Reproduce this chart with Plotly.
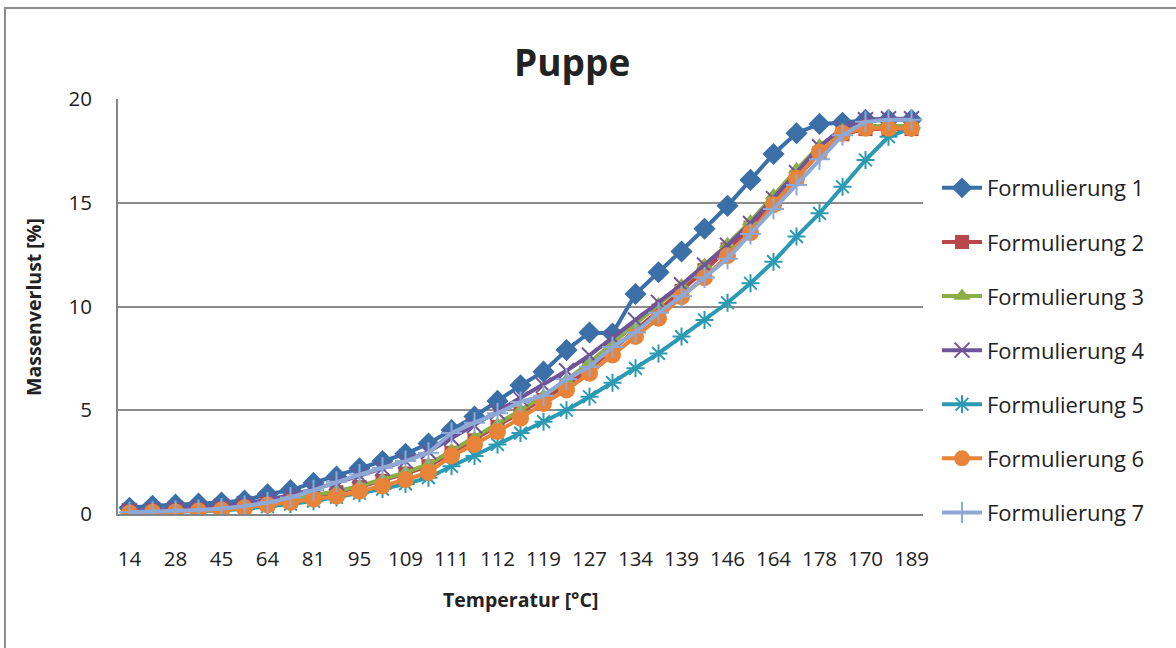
import plotly.graph_objects as go

tick_labels = ["14", "28", "45", "64", "81", "95", "109", "111", "112", "119",
               "127", "134", "139", "146", "164", "178", "170", "189"]

f1 = [0.3, 0.4, 0.45, 0.5, 0.55, 0.65, 0.95, 1.15, 1.5, 1.8, 2.2, 2.55, 2.9, 3.4, 4.05, 4.7, 5.45, 6.2,
      6.86, 7.9, 8.75, 8.7, 10.6, 11.65, 12.65, 13.75, 14.85, 16.1, 17.35, 18.35, 18.8, 18.85, 19.0, 19.0, 19.0]
f2 = [0.15, 0.18, 0.2, 0.22, 0.28, 0.38, 0.5, 0.65, 0.85, 1.05, 1.3, 1.6, 1.95, 2.3, 2.95, 3.55, 4.2, 4.85,
      5.5, 6.2, 7.0, 7.9, 8.85, 9.8, 10.75, 11.75, 12.75, 13.8, 14.95, 16.2, 17.4, 18.3, 18.55, 18.55, 18.55]
f3 = [0.12, 0.16, 0.2, 0.24, 0.3, 0.4, 0.52, 0.68, 0.9, 1.1, 1.35, 1.65, 2.0, 2.4, 3.05, 3.65, 4.3, 5.0,
      5.7, 6.45, 7.3, 8.2, 9.15, 10.1, 11.0, 12.0, 13.0, 14.1, 15.35, 16.6, 17.75, 18.5, 18.7, 18.7, 18.7]
f4 = [0.15, 0.2, 0.25, 0.3, 0.38, 0.5, 0.68, 0.9, 1.2, 1.5, 1.85, 2.2, 2.55, 3.0, 3.65, 4.25, 4.9, 5.55,
      6.2, 6.9, 7.65, 8.5, 9.35, 10.2, 11.05, 12.0, 12.95, 14.0, 15.2, 16.45, 17.7, 18.6, 19.0, 19.05, 19.05]
f5 = [0.05, 0.08, 0.1, 0.12, 0.17, 0.25, 0.35, 0.48, 0.62, 0.8, 1.0, 1.2, 1.45, 1.75, 2.3, 2.8, 3.35, 3.9,
      4.45, 5.0, 5.65, 6.33, 7.02, 7.74, 8.55, 9.35, 10.18, 11.12, 12.16, 13.37, 14.49, 15.77, 17.06, 18.18, 18.6]
f6 = [0.05, 0.08, 0.1, 0.14, 0.19, 0.3, 0.43, 0.55, 0.71, 0.85, 1.1, 1.35, 1.65, 2.0, 2.8, 3.35, 3.97, 4.62,
      5.33, 5.98, 6.78, 7.66, 8.55, 9.43, 10.47, 11.38, 12.45, 13.55, 14.9, 16.18, 17.45, 18.35, 18.59, 18.59, 18.59]
f7 = [0.08, 0.11, 0.14, 0.19, 0.27, 0.38, 0.55, 0.79, 1.15, 1.55, 1.9, 2.23, 2.55, 2.95, 3.9, 4.4, 4.85, 5.4,
      5.7, 6.5, 7.1, 8.05, 8.75, 9.7, 10.5, 11.4, 12.3, 13.5, 14.7, 15.85, 17.1, 18.25, 18.9, 19.0, 19.0]

series = [
    ("Formulierung 1", f1, "#3A6FA8", "diamond", 17, 0, None),
    ("Formulierung 2", f2, "#B9474A", "square", 14, 0, None),
    ("Formulierung 3", f3, "#8BAE47", "triangle-up", 15, 0, None),
    ("Formulierung 4", f4, "#70549A", "x-thin-open", 15, 2, "#70549A"),
    ("Formulierung 5", f5, "#2B9AB2", "asterisk-open", 15, 2, "#2B9AB2"),
    ("Formulierung 6", f6, "#E8833A", "circle", 17, 0, None),
    ("Formulierung 7", f7, "#8EA9D5", "cross-thin-open", 15, 2, "#8EA9D5"),
]

n = len(f1)
xs = list(range(n))

fig = go.Figure()
for i, (name, vals, color, sym, size, lw, lc) in enumerate(series):
    marker = dict(symbol=sym, size=size, color=color)
    if lw:
        marker["line"] = dict(width=lw, color=lc)
    else:
        marker["line"] = dict(width=0)
    fig.add_trace(go.Scatter(
        x=xs, y=vals, name=name, mode="lines+markers",
        line=dict(color=color, width=4),
        marker=marker, legendgroup=f"g{i}",
    ))

font_family = "Open Sans"

fig.update_layout(
    width=1176, height=648,
    margin=dict(l=118, r=253, t=99, b=134),
    paper_bgcolor="white", plot_bgcolor="white",
    font=dict(family=font_family, color="#222222", size=20),
    showlegend=True,
    legend=dict(x=1.0174, y=0.836, xanchor="left", yanchor="top",
                font=dict(size=22, family=font_family, color="#222222"),
                tracegroupgap=22.5, itemwidth=40, bgcolor="rgba(0,0,0,0)"),
    annotations=[
        dict(text="<b>Puppe</b>", xref="paper", yref="paper", x=0.564, y=1.09,
             xanchor="center", yanchor="middle", showarrow=False,
             font=dict(size=37, family=font_family, color="#222222")),
        dict(text="<b>Temperatur [°C]</b>", xref="paper", yref="paper", x=0.5, y=-0.207,
             xanchor="center", yanchor="middle", showarrow=False,
             font=dict(size=19.5, family=font_family, color="#222222")),
        dict(text="<b>Massenverlust [%]</b>", xref="paper", yref="paper", x=-0.105, y=0.5,
             xanchor="center", yanchor="middle", showarrow=False, textangle=-90,
             font=dict(size=19.5, family=font_family, color="#222222")),
    ],
    shapes=[
        dict(type="rect", xref="paper", yref="paper", x0=-0.1404, x1=1.33, y0=-0.4, y1=1.219,
             line=dict(color="#8C8C8C", width=2), fillcolor="rgba(0,0,0,0)", layer="below"),
    ],
)

fig.update_xaxes(
    range=[-0.5, n - 0.5], tickmode="array",
    tickvals=xs[::2], ticktext=tick_labels,
    showgrid=False, zeroline=False, showline=True, linecolor="#868686", linewidth=2,
    ticks="", ticklabelstandoff=25, tickfont=dict(size=20.5, family=font_family, color="#222222"),
)
fig.update_yaxes(
    range=[0, 20], dtick=5, tick0=0,
    showgrid=True, gridcolor="#8C8C8C", gridwidth=1.5, zeroline=False,
    showline=True, linecolor="#868686", linewidth=2,
    ticks="", ticklabelstandoff=20, tickfont=dict(size=20.5, family=font_family, color="#222222"),
)

fig.write_html("out.html")
